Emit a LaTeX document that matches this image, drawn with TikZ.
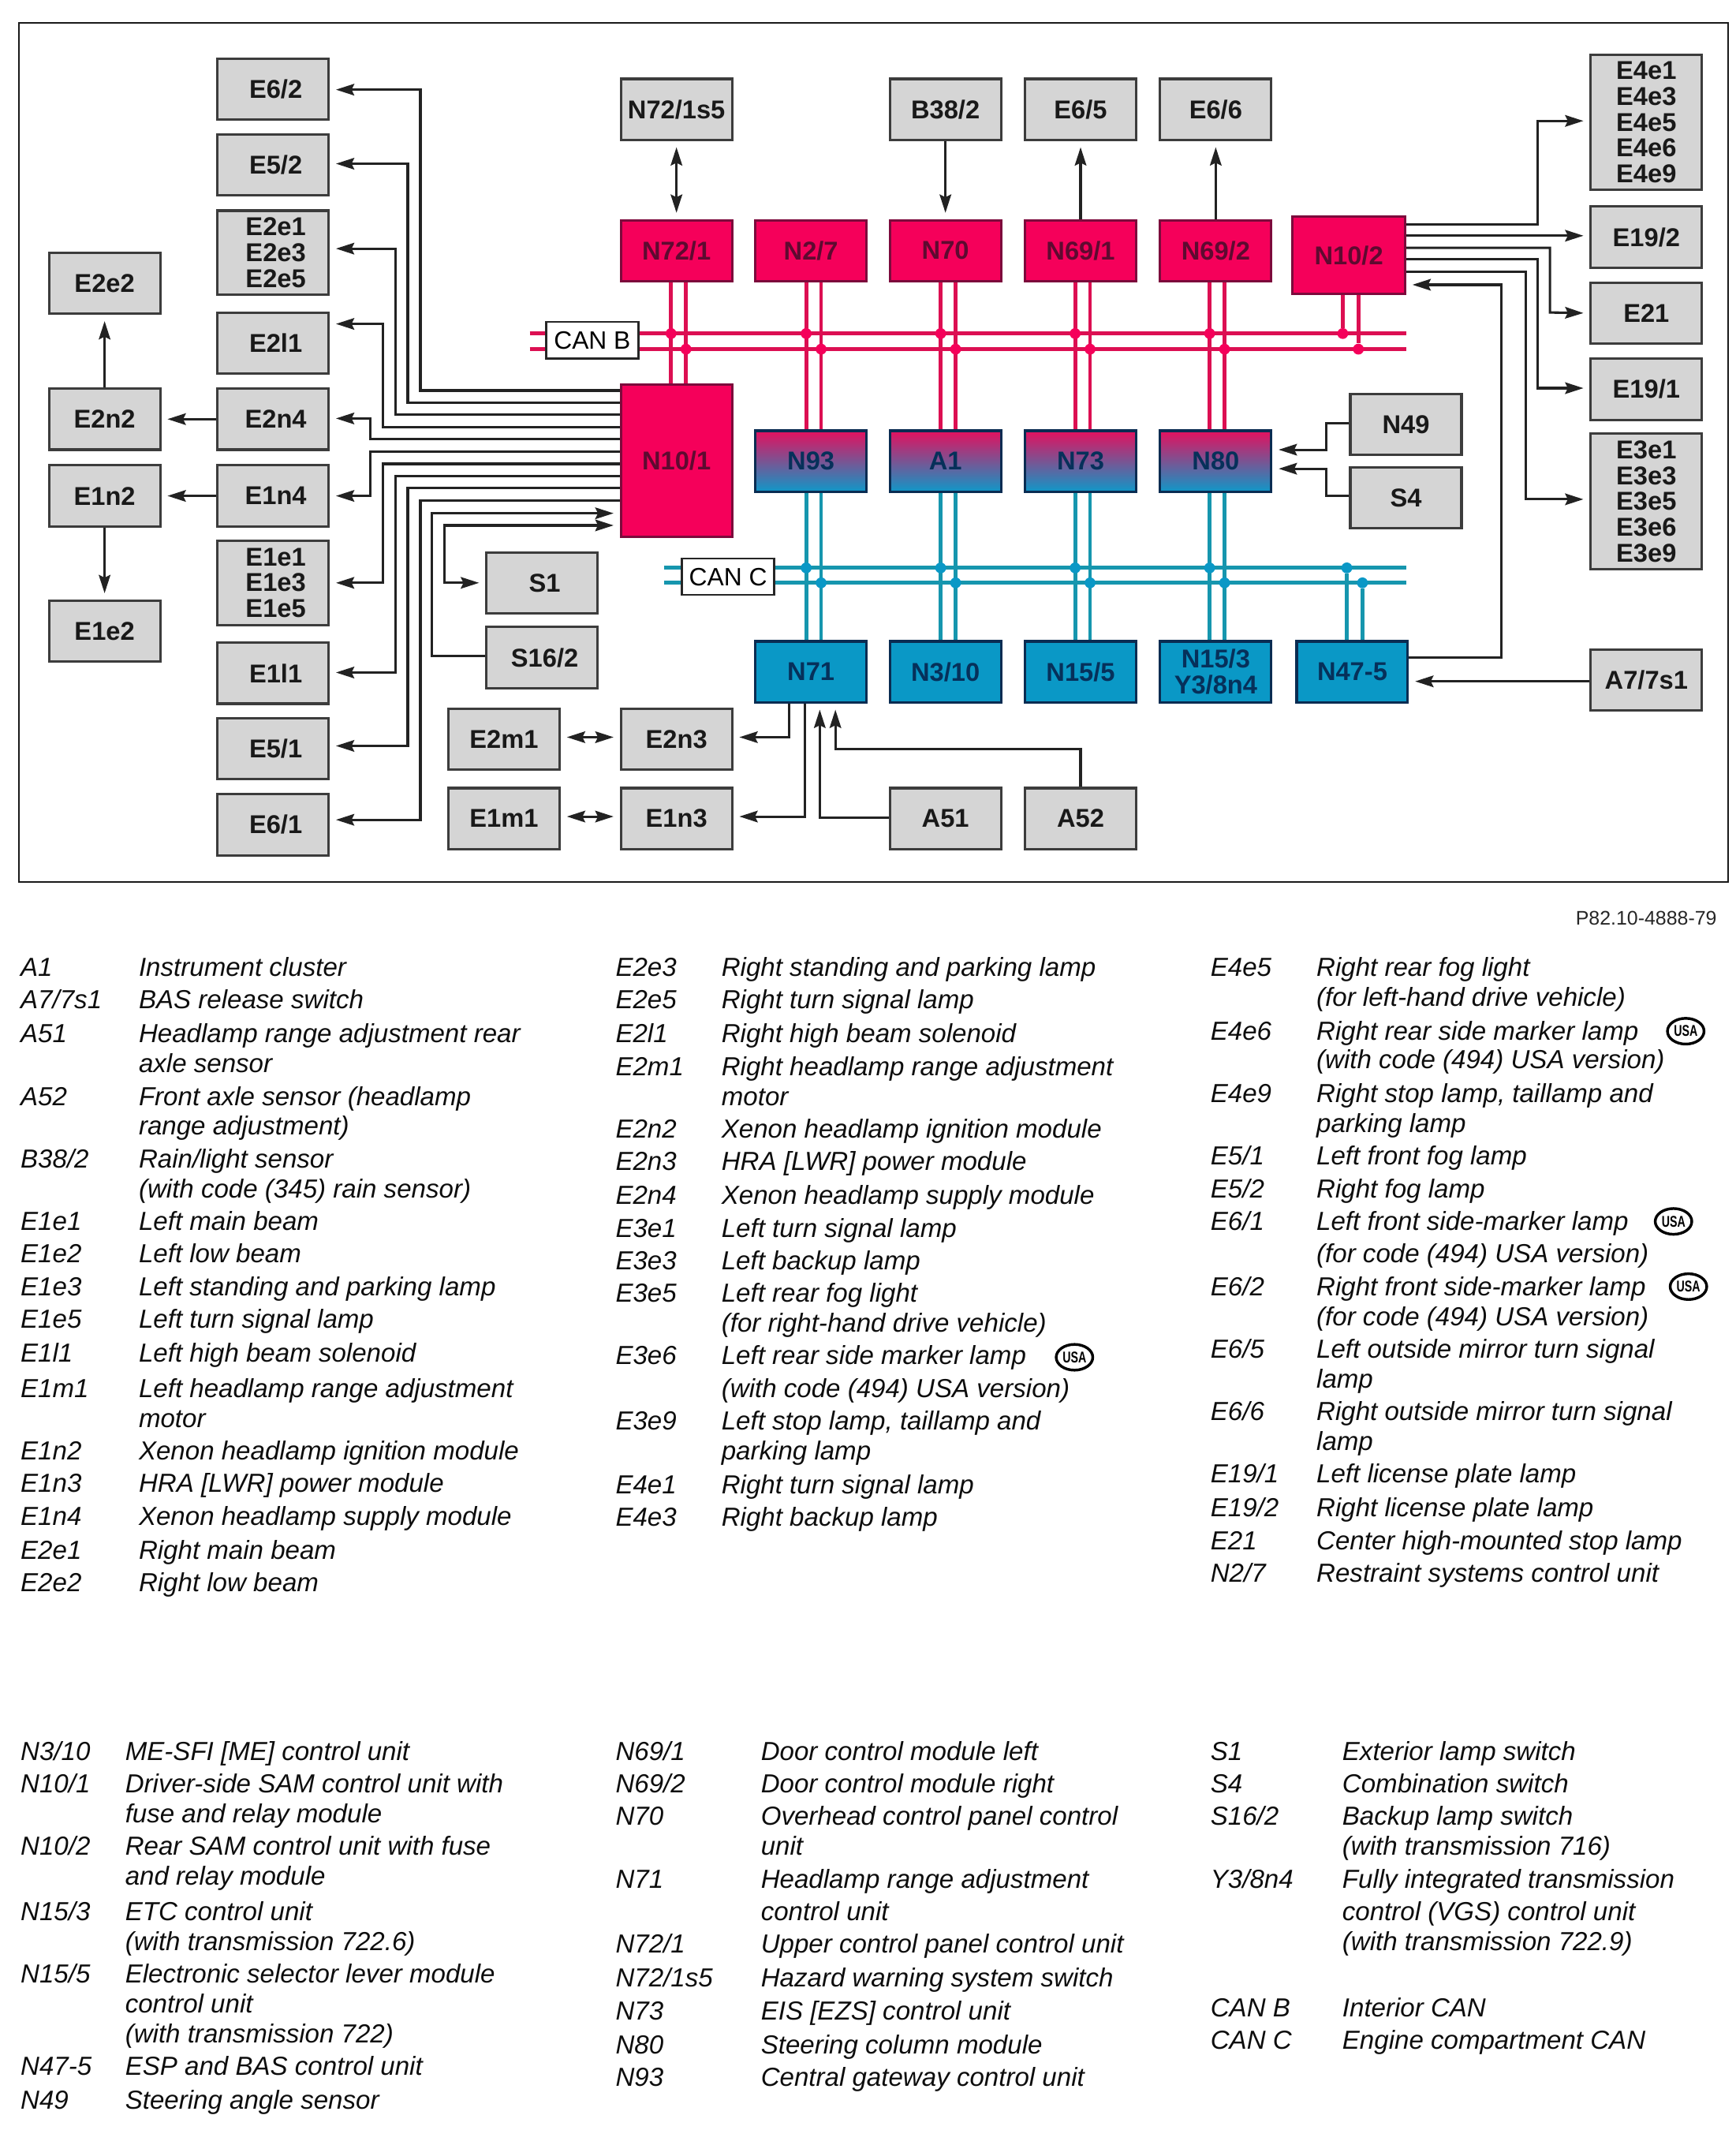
\documentclass[tikz,border=0pt]{standalone}
\usepackage{fontspec}
\setmainfont{Liberation Sans}
\usetikzlibrary{arrows.meta,shapes.geometric}
\definecolor{boxgray}{HTML}{D5D5D5}
\definecolor{edgegray}{HTML}{3C3C3C}
\definecolor{wiredark}{HTML}{222222}
\definecolor{canbfill}{HTML}{F5005A}
\definecolor{canbedge}{HTML}{7C0A3C}
\definecolor{canbtext}{HTML}{5E0A30}
\definecolor{canbbus}{HTML}{DC0F52}
\definecolor{cancfill}{HTML}{0A98C6}
\definecolor{cancedge}{HTML}{0A2C52}
\definecolor{canctext}{HTML}{06305A}
\definecolor{cancbus}{HTML}{1696AE}
\definecolor{gatefrom}{HTML}{E4105E}
\definecolor{gateto}{HTML}{0F98C8}
\tikzset{
	unitbox/.style={draw=edgegray,line width=1.8pt,minimum width=82pt,minimum height=45pt,inner sep=0pt,align=center,font=\fontsize{19}{19}\selectfont\bfseries},
	grayunit/.style={unitbox,fill=boxgray,text=black!90},
	nudged/.style={execute at begin node=\hspace*{4pt}},
	bunit/.style={unitbox,draw=canbedge,fill=canbfill,text=canbtext},
	cunit/.style={unitbox,draw=cancedge,fill=cancfill,text=canctext},
	gateunit/.style={unitbox,draw=cancedge,top color=gatefrom,bottom color=gateto,text=canctext},
	canlabel/.style={draw=black!85,line width=1.4pt,fill=white,inner sep=0pt,minimum height=27pt,font=\fontsize{18.5}{19}\selectfont},
	wire/.style={draw=wiredark,line width=1.8pt,>={Stealth[length=13.5pt,width=8.5pt,inset=2pt]},shorten >=4.5pt},
	busb/.style={canbbus,line width=2.8pt},
	busc/.style={cancbus,line width=2.8pt},
	dotb/.style={circle,fill=canbfill,inner sep=0pt,minimum size=8pt},
	dotc/.style={circle,fill=cancfill,inner sep=0pt,minimum size=8pt},
	legend/.style={anchor=base west,inner sep=0pt,yshift=-6.5pt,text=black!95,font=\fontsize{19.25}{22}\selectfont\itshape},
	usabadge/.style={ellipse,draw=black,line width=2pt,inner sep=0pt,minimum width=27pt,minimum height=19pt,font=\fontsize{11.5}{10}\selectfont\bfseries},
}

\begin{document}
\begin{tikzpicture}[x=1.002pt,y=-1.002pt]
	\useasboundingbox (0,0) rectangle (1277.44,1567.76);
	\draw[line width=1.1pt,black!90] (14,17) rectangle (1272,649);

	% bus lines first, units go on top
	\foreach \nm/\yy in {B1/245.5,B2/257} { \coordinate (\nm w) at (390,\yy); \coordinate (\nm e) at (1035,\yy); \draw[busb] (\nm w) -- (\nm e);}
	\foreach \nm/\yy in {C1/418,C2/429} { \coordinate (\nm w) at (489,\yy); \coordinate (\nm e) at (1035,\yy); \draw[busc] (\nm w) -- (\nm e);}

	\foreach \nm/\xx/\yy/\txt in {E62/201/65.5/{E6/2},E52/201/121.5/{E5/2},E2l/201/252.5/{E2l1},E2n4/201/308.5/E2n4,E1n4/201/365/E1n4,E1l/201/495.5/{E1l1},E51/201/551/{E5/1},E61/201/607/{E6/1},
		S1/399/429/S1,S162/399/484/{S16/2}}
		{ \node[grayunit,nudged] (\nm) at (\xx,\yy) {\txt};}
	\foreach \nm/\xx/\yy/\txt in {E2e2/77/208.5/E2e2,E2n2/77/308.5/E2n2,E1n2/77/365/E1n2,E1e2/77/464.5/E1e2,
		N721s/498/80.5/{N72/1s5},B382/696/80.5/{B38/2},E65/795.5/80.5/{E6/5},E66/895/80.5/{E6/6},
		E192/1212/174.5/{E19/2},E21/1212/230.5/E21,E191/1212/286.5/{E19/1},N49/1035/312.5/N49,S4/1035/366.5/S4,
		A77/1212/500.5/{A7/7s1},E2m1/371/544/E2m1,E2n3/498/544/E2n3,E1m1/371/602.5/E1m1,E1n3/498/602.5/E1n3,A51/696/602.5/A51,A52/795.5/602.5/A52}
		{ \node[grayunit] (\nm) at (\xx,\yy) {\txt};}
	\node[grayunit,minimum height=62pt] (E2e) at (201,186) {\hspace*{4pt}E2e1\\\hspace*{4pt}E2e3\\\hspace*{4pt}E2e5};
	\node[grayunit,minimum height=62pt] (E1e) at (201,429) {\hspace*{4pt}E1e1\\\hspace*{4pt}E1e3\\\hspace*{4pt}E1e5};
	\node[grayunit,minimum height=100pt] (E4e) at (1212,90) {E4e1\\E4e3\\E4e5\\E4e6\\E4e9};
	\node[grayunit,minimum height=100pt] (E3e) at (1212,369) {E3e1\\E3e3\\E3e5\\E3e6\\E3e9};

	\foreach \nm/\xx/\txt in {N721/498/{N72/1},N27/597/{N2/7},N70/696/N70,N691/795.5/{N69/1},N692/895/{N69/2}} { \node[bunit] (\nm) at (\xx,184.5) {\txt};}
	\node[bunit,minimum width=83pt,minimum height=57pt] (N102) at (993,188) {N10/2};
	\node[bunit,minimum height=112pt] (N101) at (498,339) {N10/1};
	\foreach \nm/\xx/\txt in {N93/597/N93,A1/696/A1,N73/795.5/N73,N80/895/N80} { \node[gateunit] (\nm) at (\xx,339.5) {\txt};}
	\foreach \nm/\xx/\txt in {N71/597/N71,N310/696/{N3/10},N155/795.5/{N15/5},N153/895/{N15/3\\Y3/8n4},N475/995.5/N47-5} { \node[cunit] (\nm) at (\xx,494.5) {\txt};}

	\node[canlabel,minimum width=68pt] (canb) at (436,250.5) {CAN B};
	\node[canlabel,minimum width=68pt] (canc) at (536,424.5) {CAN C};

	% uprights between units and buses
	\draw[busb] (N721.south -| 494,0) -- (N101.north -| 494,0);
	\draw[busb] (N721.south -| 505,0) -- (N101.north -| 505,0);
	\node[dotb] (db1) at (494,245.5) {}; \node[dotb] (db2) at (505,257) {};
	\foreach \nt/\nm/\nb/\xa/\xb in {N27/N93/N71/593.5/604.5,N70/A1/N310/692.5/703.5,N691/N73/N155/791.5/802.5,N692/N80/N153/890.5/901.5} {
		\draw[busb] (\nt.south -| \xa,0) -- (\nm.north -| \xa,0);
		\draw[busb] (\nt.south -| \xb,0) -- (\nm.north -| \xb,0);
		\draw[busc] (\nm.south -| \xa,0) -- (\nb.north -| \xa,0);
		\draw[busc] (\nm.south -| \xb,0) -- (\nb.north -| \xb,0);
		\node[dotb] (db\nm a) at (\xa,245.5) {}; \node[dotb] (db\nm b) at (\xb,257) {};
		\node[dotc] (dc\nm a) at (\xa,418) {}; \node[dotc] (dc\nm b) at (\xb,429) {};
	}
	\node[dotb] (dbN1) at (988.5,245.5) {}; \node[dotb] (dbN2) at (1000,257) {};
	\draw[busb] (N102.south -| dbN1) -- (dbN1); \draw[busb] (N102.south -| dbN2) -- (dbN2);
	\node[dotc] (dcN1) at (991.5,418) {}; \node[dotc] (dcN2) at (1003,429) {};
	\draw[busc] (N475.north -| dcN1) -- (dcN1); \draw[busc] (N475.north -| dcN2) -- (dcN2);

	% left harness out of N10/1
	\foreach \nm/\yy/\xx/\ty in {E62/287.4/309.5/66,E52/296.3/300.2/120.5,E2e/305/291/183,E2l/314.4/282/238.4,E2n4/323.3/272.8/308,E1n4/332.2/272.8/365,E1e/341.4/282/429,E1l/350.3/291/495,E51/359.2/300.2/549,E61/368.5/309.5/603.4} {
		\draw[wire,->] (N101.west |- 0,\yy) -- (\xx,\yy) |- (\nm.east |- 0,\ty);
	}
	\draw[wire,->] (S162.west |- 0,482.6) -| (318,377.8) -- (N101.west |- 0,377.8);
	\draw[wire,<->,shorten <=4.5pt] (S1.west) -| (327.3,386.7) -- (N101.west |- 0,386.7);

	\draw[wire,->] (E2n4.west) -- (E2n2.east);
	\draw[wire,->] (E1n4.west) -- (E1n2.east);
	\draw[wire,->] (E2n2.north) -- (E2e2.south);
	\draw[wire,->] (E1n2.south) -- (E1e2.north);
	\draw[wire,<->,shorten <=4.5pt] (N721s.south) -- (N721.north);
	\draw[wire,->] (B382.south) -- (N70.north);
	\draw[wire,->] (N691.north) -- (E65.south);
	\draw[wire,->] (N692.north) -- (E66.south);
	\draw[wire,<->,shorten <=4.5pt] (E2m1.east |- 0,542.6) -- (E2n3.west |- 0,542.6);
	\draw[wire,<->,shorten <=4.5pt] (E1m1.east |- 0,601) -- (E1n3.west |- 0,601);

	% right side of N10/2
	\draw[wire,->] (N102.east |- 0,165) -| (1132,89) -- (E4e.west |- 0,89);
	\draw[wire,->] (N102.east |- 0,173.5) -- (E192.west |- 0,173.5);
	\draw[wire,->] (N102.east |- 0,182.4) -| (1141,230) -- (E21.west);
	\draw[wire,->] (N102.east |- 0,191) -| (1132,285.7) -- (E191.west |- 0,285.7);
	\draw[wire,->] (N102.east |- 0,200) -| (1123,367.5) -- (E3e.west |- 0,367.5);
	\draw[wire,->] (N475.east |- 0,484) -| (1105,209.6) -- (N102.east |- 0,209.6);
	\draw[wire,->] (A77.west |- 0,501.5) -- (N475.east |- 0,501.5);
	\draw[wire,->] (N49.west |- 0,311.5) -| (976.5,331) -- (N80.east |- 0,331);
	\draw[wire,->] (S4.west |- 0,365) -| (976.5,345) -- (N80.east |- 0,345);

	% below N71
	\draw[wire,->] (N71.south -| 581,0) |- (E2n3.east |- 0,542.6);
	\draw[wire,->] (N71.south -| 592.4,0) |- (E1n3.east |- 0,601);
	\draw[wire,->] (A51.west |- 0,602) -| (N71.south -| 603.5,0);
	\draw[wire,->] (A52.north) |- (615,551.4) -- (N71.south -| 615,0);

	\node[anchor=base east,inner sep=0pt,font=\fontsize{14.5}{16}\selectfont,text=black!85] (partno) at (1264,681) {P82.10-4888-79};

	% legend, left to right
	\foreach \yy/\key/\desc [count=\i] in {712/A1/Instrument cluster,736/{A7/7s1}/BAS release switch,761/A51/Headlamp range adjustment rear,807/A52/Front axle sensor (headlamp,853/{B38/2}/{Rain/light sensor},899/E1e1/Left main beam,923/E1e2/Left low beam,947/E1e3/Left standing and parking lamp,971/E1e5/Left turn signal lamp,996/E1l1/Left high beam solenoid,1022/E1m1/Left headlamp range adjustment,1068/E1n2/Xenon headlamp ignition module,1092/E1n3/HRA [LWR] power module,1116/E1n4/Xenon headlamp supply module,1141/E2e1/Right main beam,1165/E2e2/Right low beam}
		{ \node[legend] (ka\i) at (15,\yy) {\key}; \node[legend] (ta\i) at (102,\yy) {\desc};}
	\foreach \yy/\desc [count=\i] in {783/axle sensor,829/range adjustment),875/(with code (345) rain sensor),1044/motor}
		{ \node[legend] (ma\i) at (102,\yy) {\desc};}

	\foreach \yy/\key/\desc [count=\i] in {712/E2e3/Right standing and parking lamp,736/E2e5/Right turn signal lamp,761/E2l1/Right high beam solenoid,785/E2m1/Right headlamp range adjustment,831/E2n2/Xenon headlamp ignition module,855/E2n3/HRA [LWR] power module,880/E2n4/Xenon headlamp supply module,904/E3e1/Left turn signal lamp,928/E3e3/Left backup lamp,952/E3e5/Left rear fog light,998/E3e6/Left rear side marker lamp,1046/E3e9/{Left stop lamp, taillamp and},1093/E4e1/Right turn signal lamp,1117/E4e3/Right backup lamp}
		{ \node[legend] (kb\i) at (453,\yy) {\key}; \node[legend] (tb\i) at (531,\yy) {\desc};}
	\foreach \yy/\desc [count=\i] in {807/motor,974/(for right-hand drive vehicle),1022/(with code (494) USA version),1068/parking lamp}
		{ \node[legend] (mb\i) at (531,\yy) {\desc};}

	\foreach \yy/\key/\desc [count=\i] in {712/E4e5/Right rear fog light,759/E4e6/Right rear side marker lamp,805/E4e9/{Right stop lamp, taillamp and},851/{E5/1}/Left front fog lamp,875/{E5/2}/Right fog lamp,899/{E6/1}/Left front side-marker lamp,947/{E6/2}/Right front side-marker lamp,993/{E6/5}/Left outside mirror turn signal,1039/{E6/6}/Right outside mirror turn signal,1085/{E19/1}/Left license plate lamp,1110/{E19/2}/Right license plate lamp,1134/E21/Center high-mounted stop lamp,1158/{N2/7}/Restraint systems control unit}
		{ \node[legend] (kc\i) at (891,\yy) {\key}; \node[legend] (tc\i) at (969,\yy) {\desc};}
	\foreach \yy/\desc [count=\i] in {734/(for left-hand drive vehicle),780/(with code (494) USA version),827/parking lamp,923/(for code (494) USA version),969/(for code (494) USA version),1015/lamp,1061/lamp}
		{ \node[legend] (mc\i) at (969,\yy) {\desc};}

	\foreach \yy/\key/\desc [count=\i] in {1289/{N3/10}/ME-SFI [ME] control unit,1313/{N10/1}/Driver-side SAM control unit with,1359/{N10/2}/Rear SAM control unit with fuse,1407/{N15/3}/ETC control unit,1453/{N15/5}/Electronic selector lever module,1521/N47-5/ESP and BAS control unit,1546/N49/Steering angle sensor}
		{ \node[legend] (kd\i) at (15,\yy) {\key}; \node[legend] (td\i) at (92,\yy) {\desc};}
	\foreach \yy/\desc [count=\i] in {1335/fuse and relay module,1381/and relay module,1429/(with transmission 722.6),1475/control unit,1497/(with transmission 722)}
		{ \node[legend] (md\i) at (92,\yy) {\desc};}

	\foreach \yy/\key/\desc [count=\i] in {1289/{N69/1}/Door control module left,1313/{N69/2}/Door control module right,1337/N70/Overhead control panel control,1383/N71/Headlamp range adjustment,1431/{N72/1}/Upper control panel control unit,1456/{N72/1s5}/Hazard warning system switch,1480/N73/EIS [EZS] control unit,1505/N80/Steering column module,1529/N93/Central gateway control unit}
		{ \node[legend] (ke\i) at (453,\yy) {\key}; \node[legend] (te\i) at (560,\yy) {\desc};}
	\foreach \yy/\desc [count=\i] in {1359/unit,1407/control unit}
		{ \node[legend] (me\i) at (560,\yy) {\desc};}

	\foreach \yy/\key/\desc [count=\i] in {1289/S1/Exterior lamp switch,1313/S4/Combination switch,1337/{S16/2}/Backup lamp switch,1383/{Y3/8n4}/Fully integrated transmission,1478/CAN B/Interior CAN,1502/CAN C/Engine compartment CAN}
		{ \node[legend] (kf\i) at (891,\yy) {\key}; \node[legend] (tf\i) at (988,\yy) {\desc};}
	\foreach \yy/\desc [count=\i] in {1359/(with transmission 716),1407/control (VGS) control unit,1429/(with transmission 722.9)}
		{ \node[legend] (mf\i) at (988,\yy) {\desc};}

	\foreach \nm/\xx/\yy in {usaa/791/999,usab/1241/759,usac/1232/899,usad/1243/947} { \node[usabadge] (\nm) at (\xx,\yy) {\scalebox{.72}[1]{USA}};}
\end{tikzpicture}
\end{document}
